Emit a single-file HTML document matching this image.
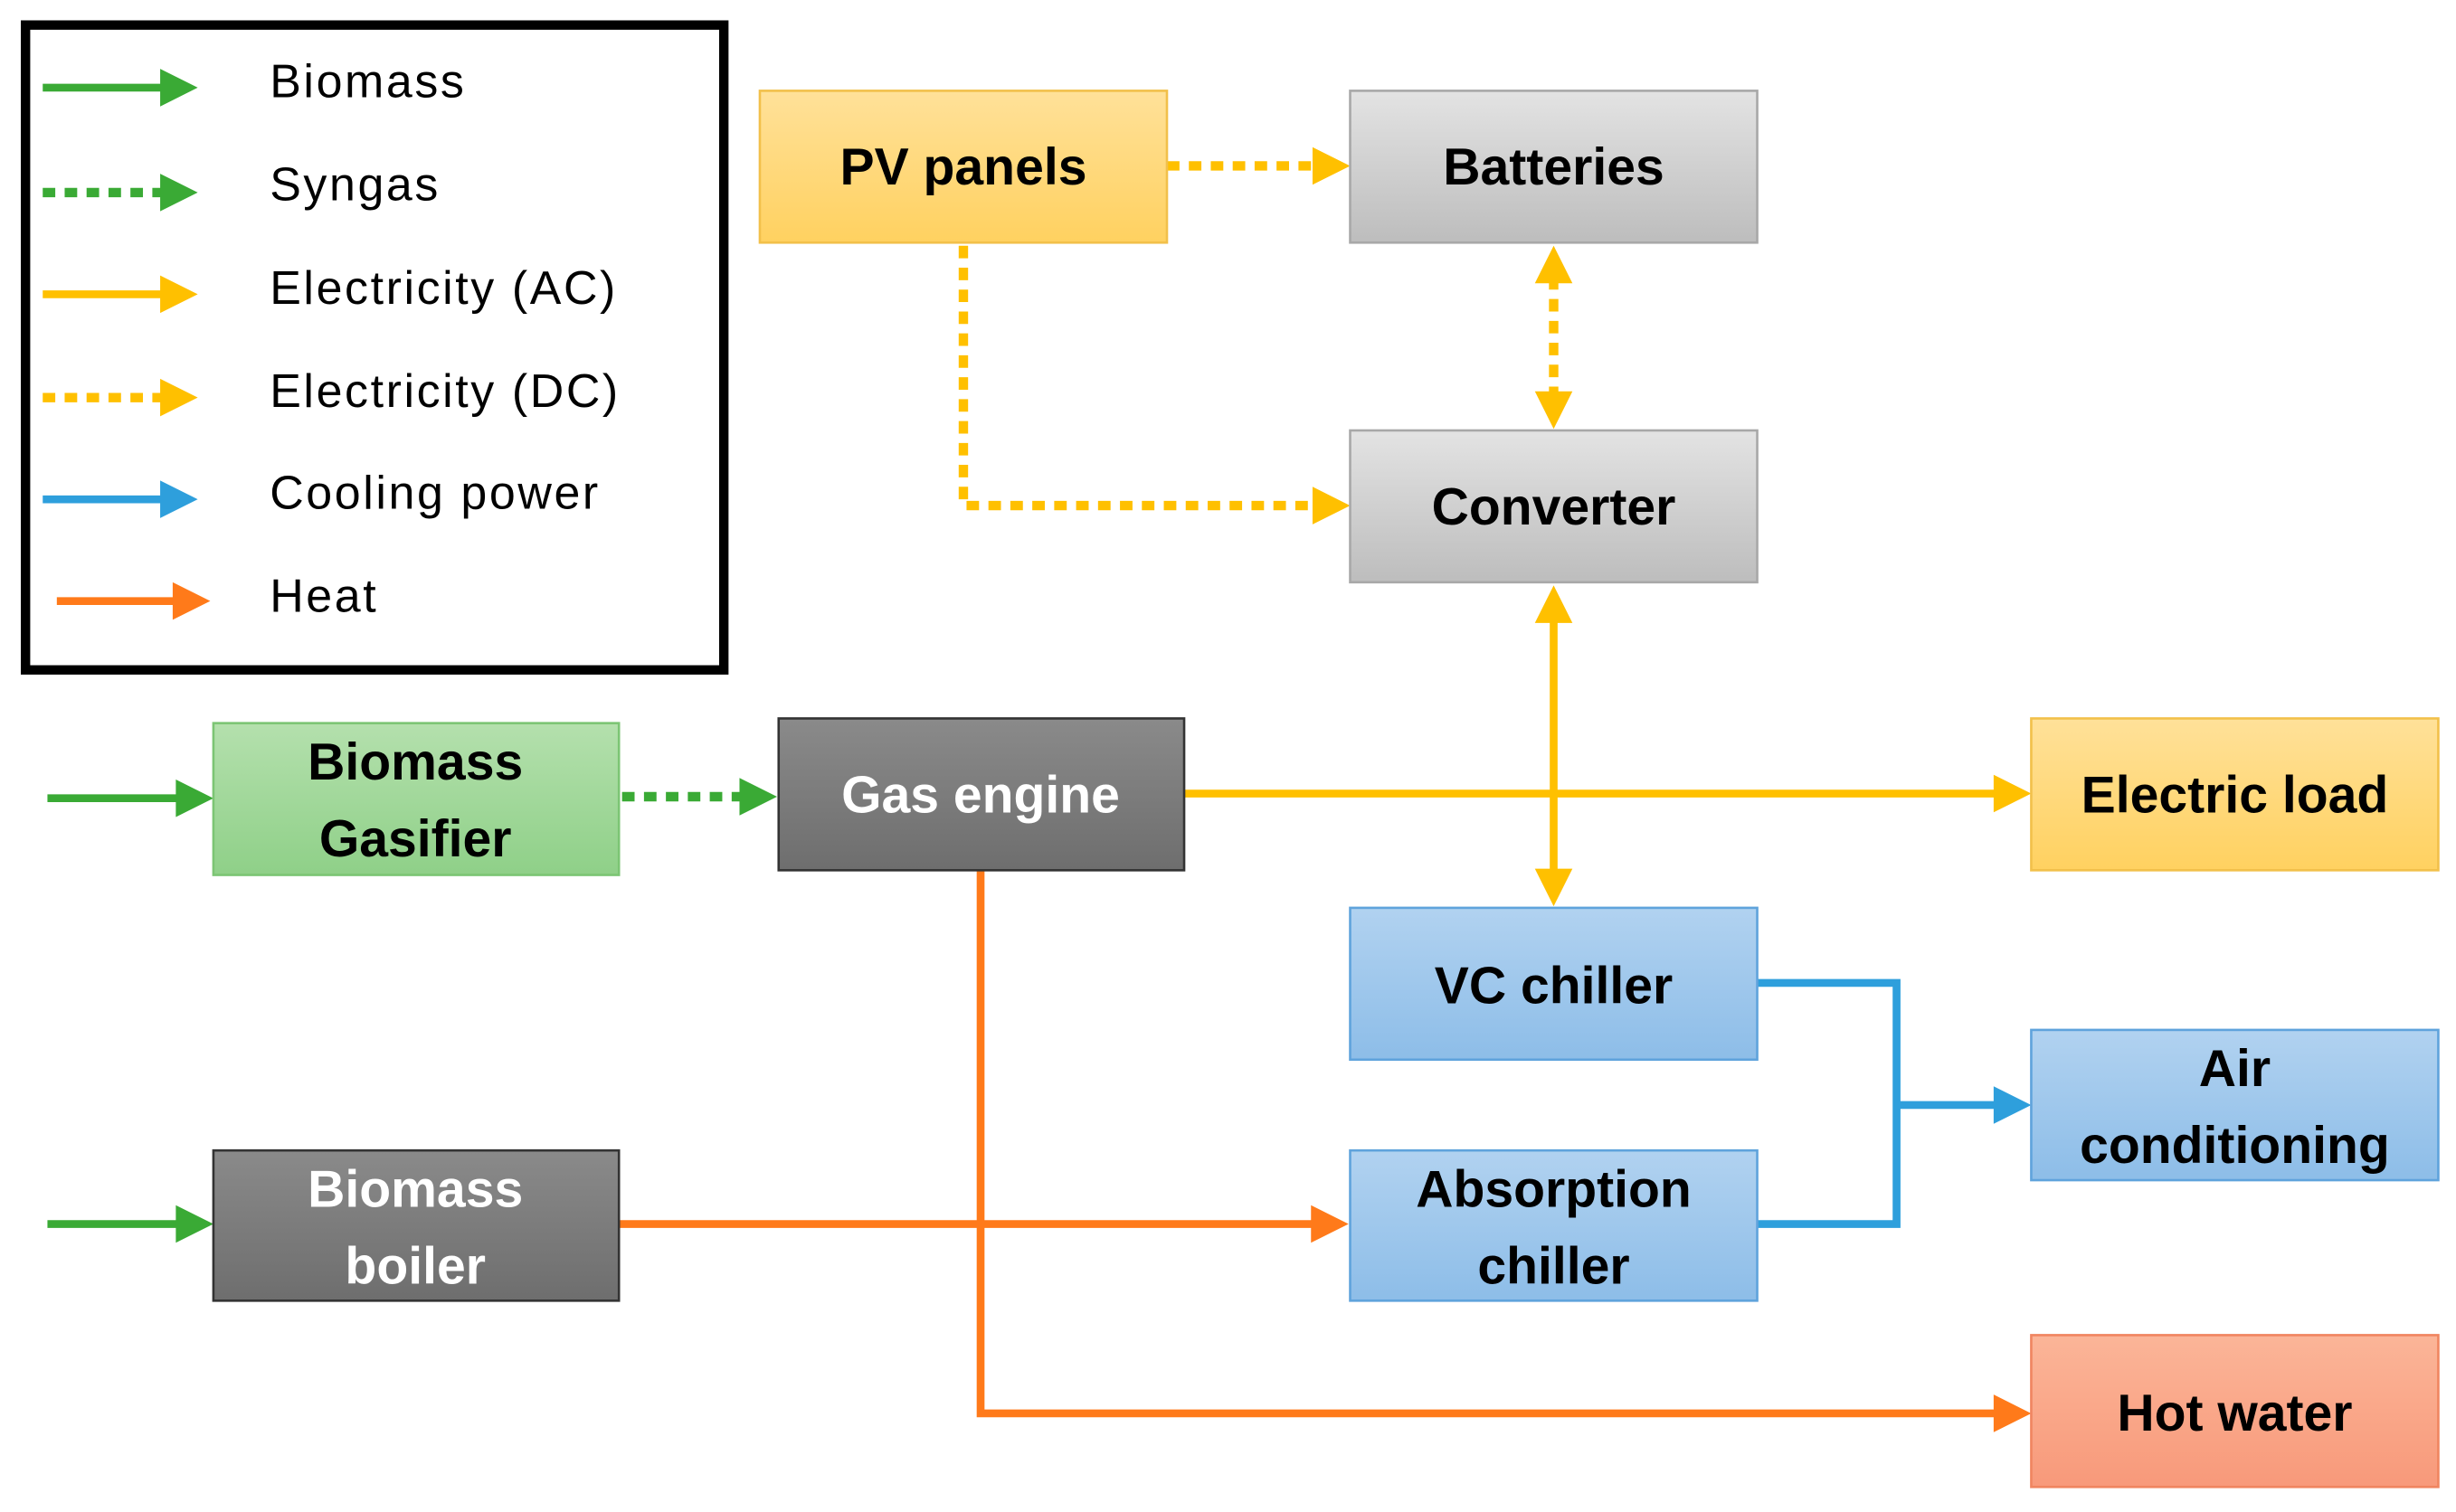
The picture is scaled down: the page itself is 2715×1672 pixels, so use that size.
<!DOCTYPE html>
<html><head><meta charset="utf-8"><style>
html,body{margin:0;padding:0;background:#fff;}
svg{display:block;}
text{font-family:"Liberation Sans",Arial,sans-serif;}
.b{font-weight:bold;font-size:33px;text-anchor:middle;fill:#000;}
.w{fill:#fff;}
.l{font-size:30px;fill:#000;letter-spacing:1.5px;}
</style></head><body>
<svg width="2715" height="1672" viewBox="0 0 1568 966" xmlns="http://www.w3.org/2000/svg">
<defs>
<linearGradient id="gy" x1="0" y1="0" x2="0" y2="1"><stop offset="0" stop-color="#e3e3e3"/><stop offset="1" stop-color="#bdbdbd"/></linearGradient>
<linearGradient id="dg" x1="0" y1="0" x2="0" y2="1"><stop offset="0" stop-color="#8a8a8a"/><stop offset="1" stop-color="#6e6e6e"/></linearGradient>
<linearGradient id="yl" x1="0" y1="0" x2="0" y2="1"><stop offset="0" stop-color="#ffe199"/><stop offset="1" stop-color="#ffd160"/></linearGradient>
<linearGradient id="gr" x1="0" y1="0" x2="0" y2="1"><stop offset="0" stop-color="#b4e0ad"/><stop offset="1" stop-color="#8fd088"/></linearGradient>
<linearGradient id="bl" x1="0" y1="0" x2="0" y2="1"><stop offset="0" stop-color="#b1d2f0"/><stop offset="1" stop-color="#8dbde8"/></linearGradient>
<linearGradient id="or" x1="0" y1="0" x2="0" y2="1"><stop offset="0" stop-color="#fbb598"/><stop offset="1" stop-color="#f8997a"/></linearGradient>
</defs>
<g fill="none" stroke-width="5">
<rect x="16" y="16" width="446" height="412" stroke="#000" stroke-width="6"/>
<line x1="27" y1="56" x2="104" y2="56" stroke="#3aaa35"/>
<line x1="27" y1="123" x2="104" y2="123" stroke="#3aaa35" stroke-dasharray="8,6" stroke-width="6"/>
<line x1="27" y1="188" x2="104" y2="188" stroke="#ffc000"/>
<line x1="27" y1="254" x2="104" y2="254" stroke="#ffc000" stroke-dasharray="8,6" stroke-width="6"/>
<line x1="27" y1="319" x2="104" y2="319" stroke="#2e9fdc"/>
<line x1="36" y1="384" x2="112" y2="384" stroke="#ff7a1a"/>
<line x1="745" y1="106" x2="842" y2="106" stroke="#ffc000" stroke-dasharray="8,6" stroke-width="6"/>
<polyline points="615,157 615,323 842,323" stroke="#ffc000" stroke-dasharray="8,6" stroke-width="6"/>
<line x1="992" y1="177" x2="992" y2="254" stroke="#ffc000" stroke-dasharray="8,6" stroke-width="6"/>
<line x1="992" y1="394" x2="992" y2="558" stroke="#ffc000"/>
<line x1="756" y1="507" x2="1276" y2="507" stroke="#ffc000"/>
<line x1="397" y1="509" x2="476" y2="509" stroke="#3aaa35" stroke-dasharray="8,6" stroke-width="6"/>
<line x1="30" y1="510" x2="115" y2="510" stroke="#3aaa35"/>
<line x1="30" y1="782" x2="115" y2="782" stroke="#3aaa35"/>
<polyline points="626,556 626,903 1276,903" stroke="#ff7a1a"/>
<line x1="395" y1="782" x2="841" y2="782" stroke="#ff7a1a"/>
<polyline points="1122,628 1211,628 1211,782 1122,782" stroke="#2e9fdc"/>
<line x1="1211" y1="706" x2="1276" y2="706" stroke="#2e9fdc"/>
</g>
<g>
<polygon points="102,44 126,56 102,68" fill="#3aaa35"/>
<polygon points="102,111 126,123 102,135" fill="#3aaa35"/>
<polygon points="102,176 126,188 102,200" fill="#ffc000"/>
<polygon points="102,242 126,254 102,266" fill="#ffc000"/>
<polygon points="102,307 126,319 102,331" fill="#2e9fdc"/>
<polygon points="110,372 134,384 110,396" fill="#ff7a1a"/>
<polygon points="838,94 862,106 838,118" fill="#ffc000"/>
<polygon points="838,311 862,323 838,335" fill="#ffc000"/>
<polygon points="980,181 992,157 1004,181" fill="#ffc000"/>
<polygon points="980,250 992,274 1004,250" fill="#ffc000"/>
<polygon points="980,398 992,374 1004,398" fill="#ffc000"/>
<polygon points="980,555 992,579 1004,555" fill="#ffc000"/>
<polygon points="1273,495 1297,507 1273,519" fill="#ffc000"/>
<polygon points="472,497 496,509 472,521" fill="#3aaa35"/>
<polygon points="112,498 136,510 112,522" fill="#3aaa35"/>
<polygon points="112,770 136,782 112,794" fill="#3aaa35"/>
<polygon points="837,770 861,782 837,794" fill="#ff7a1a"/>
<polygon points="1273,891 1297,903 1273,915" fill="#ff7a1a"/>
<polygon points="1273,694 1297,706 1273,718" fill="#2e9fdc"/>
</g>
<text class="l" x="172" y="62">Biomass</text>
<text class="l" x="172" y="128">Syngas</text>
<text class="l" x="172" y="194">Electricity (AC)</text>
<text class="l" x="172" y="260">Electricity (DC)</text>
<text class="l" x="172" y="325">Cooling power</text>
<text class="l" x="172" y="391">Heat</text>
<g stroke-width="1.5">
<rect x="485" y="58" width="260" height="97" fill="url(#yl)" stroke="#f2c04a"/>
<rect x="862" y="58" width="260" height="97" fill="url(#gy)" stroke="#a8a8a8"/>
<rect x="862" y="275" width="260" height="97" fill="url(#gy)" stroke="#a8a8a8"/>
<rect x="136" y="462" width="259" height="97" fill="url(#gr)" stroke="#7cc574"/>
<rect x="497" y="459" width="259" height="97" fill="url(#dg)" stroke="#333"/>
<rect x="1297" y="459" width="260" height="97" fill="url(#yl)" stroke="#f2c04a"/>
<rect x="862" y="580" width="260" height="97" fill="url(#bl)" stroke="#5fa3dc"/>
<rect x="1297" y="658" width="260" height="96" fill="url(#bl)" stroke="#5fa3dc"/>
<rect x="862" y="735" width="260" height="96" fill="url(#bl)" stroke="#5fa3dc"/>
<rect x="136" y="735" width="259" height="96" fill="url(#dg)" stroke="#333"/>
<rect x="1297" y="853" width="260" height="97" fill="url(#or)" stroke="#f08560"/>
</g>
<text class="b" x="615" y="118">PV panels</text>
<text class="b" x="992" y="118">Batteries</text>
<text class="b" x="992" y="335">Converter</text>
<text class="b" x="265" y="498">Biomass</text>
<text class="b" x="265" y="547">Gasifier</text>
<text class="b w" x="626" y="519">Gas engine</text>
<text class="b" x="1427" y="519">Electric load</text>
<text class="b" x="992" y="641">VC chiller</text>
<text class="b" x="1427" y="694">Air</text>
<text class="b" x="1427" y="743">conditioning</text>
<text class="b" x="992" y="771">Absorption</text>
<text class="b" x="992" y="820">chiller</text>
<text class="b w" x="265" y="771">Biomass</text>
<text class="b w" x="265" y="820">boiler</text>
<text class="b" x="1427" y="914">Hot water</text>
</svg>
</body></html>
